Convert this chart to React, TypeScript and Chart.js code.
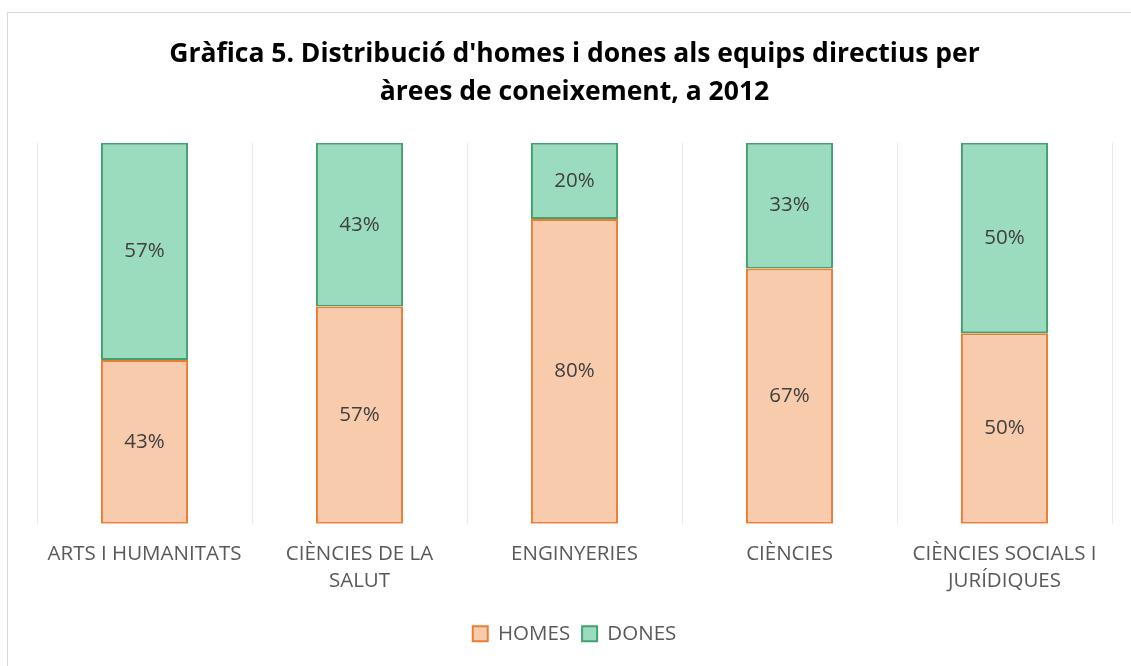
import React, { useEffect, useRef } from "react";
import { Chart, registerables } from "chart.js";

Chart.register(...registerables);

const categories: (string | string[])[] = [
  "ARTS I HUMANITATS",
  ["CIÈNCIES DE LA", "SALUT"],
  "ENGINYERIES",
  "CIÈNCIES",
  ["CIÈNCIES SOCIALS I", "JURÍDIQUES"],
];
const homes = [43, 57, 80, 67, 50];
const dones = [57, 43, 20, 33, 50];
const titleLines = [
  "Gràfica 5. Distribució d'homes i dones als equips directius per",
  "àrees de coneixement, a 2012",
];

const FONT = "'Open Sans', 'Noto Sans', sans-serif";

const labelPlugin = {
  id: "barLabels",
  afterDatasetsDraw(chart: any) {
    const ctx = chart.ctx;
    ctx.save();
    ctx.font = `20.5px ${FONT}`;
    ctx.fillStyle = "#404040";
    ctx.textAlign = "center";
    ctx.textBaseline = "middle";
    chart.data.datasets.forEach((ds: any, di: number) => {
      const meta = chart.getDatasetMeta(di);
      meta.data.forEach((bar: any, i: number) => {
        const y = (bar.y + bar.base) / 2;
        ctx.fillText(ds.data[i] + "%", bar.x, y);
      });
    });
    ctx.restore();
  },
};

export default function App() {
  const ref = useRef<HTMLCanvasElement>(null);
  useEffect(() => {
    document.body.style.margin = "0";
    document.body.style.overflow = "hidden";
    const chart = new Chart(ref.current!, {
      type: "bar",
      data: {
        labels: categories,
        datasets: [
          {
            label: "HOMES",
            data: homes,
            backgroundColor: "#F8CBAD",
            borderColor: "#ED7D31",
            borderWidth: 2,
            borderSkipped: false,
            categoryPercentage: 0.405,
            barPercentage: 1,
          },
          {
            label: "DONES",
            data: dones,
            backgroundColor: "#9BDCBE",
            borderColor: "#43A070",
            borderWidth: 2,
            borderSkipped: false,
            categoryPercentage: 0.405,
            barPercentage: 1,
          },
        ],
      },
      options: {
        animation: false,
        responsive: false,
        layout: { padding: { left: 19, right: 19, top: 0, bottom: 12 } },
        scales: {
          x: {
            stacked: true,
            grid: { display: true, offset: true, color: "#EAEAEA", lineWidth: 1, drawTicks: false },
            border: { display: false },
            ticks: {
              color: "#595959",
              font: { family: FONT, size: 20.5, lineHeight: 1.36 },
              padding: 16,
              maxRotation: 0,
              autoSkip: false,
            },
          },
          y: {
            stacked: true,
            display: false,
            min: 0,
            max: 100,
          },
        },
        plugins: {
          title: {
            display: true,
            text: titleLines,
            color: "#000000",
            font: { family: FONT, size: 26.5, weight: "bold", lineHeight: 1.43 },
            padding: { top: 36, bottom: 31 },
          },
          legend: {
            position: "bottom",
            labels: {
              color: "#595959",
              font: { family: FONT, size: 20.5 },
              boxWidth: 15,
              boxHeight: 15,
              padding: 12,
            },
          },
          tooltip: { enabled: false },
        },
      },
      plugins: [labelPlugin],
    });
    return () => chart.destroy();
  }, []);
  return (
    <div style={{ position: "relative", width: 1131, height: 666, overflow: "hidden", background: "#fff" }}>
      <div
        style={{
          position: "absolute",
          left: 7,
          top: 12,
          width: 1200,
          height: 700,
          borderLeft: "1px solid #D9D9D9",
          borderTop: "1px solid #D9D9D9",
        }}
      />
      <canvas
        ref={ref}
        width={1113}
        height={666}
        style={{ position: "absolute", left: 18, top: 0, width: 1113, height: 666 }}
      />
    </div>
  );
}
